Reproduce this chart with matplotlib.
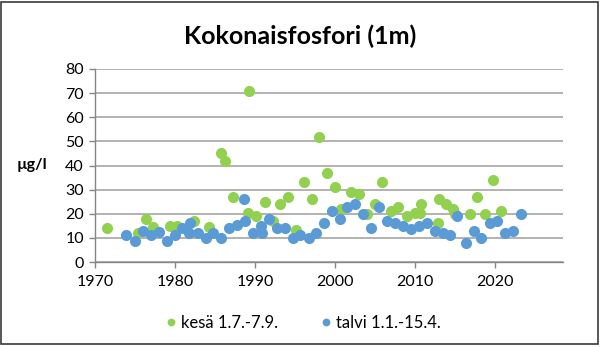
import matplotlib
matplotlib.use("Agg")
import matplotlib.pyplot as plt
from matplotlib.patches import Rectangle

plt.rcParams['font.family'] = ['Lato', 'DejaVu Sans']

# Summer samples (1.7.-7.9.): decimal year, total phosphorus µg/l
kesa_year = [1971.5, 1975.4, 1976.4, 1977.3, 1979.4, 1980.25, 1982.4, 1984.25,
             1985.7, 1986.2, 1987.2, 1989.1, 1989.25, 1990.1, 1991.25, 1992.2,
             1993.1, 1994.1, 1995.1, 1996.1, 1997.1, 1998.0, 1999.0, 2000.0,
             2000.8, 2002.0, 2003.0, 2004.0, 2005.0, 2005.9, 2007.0, 2007.9,
             2009.0, 2010.0, 2010.6, 2010.8, 2012.9, 2012.95, 2013.9, 2014.8,
             2014.95, 2016.9, 2017.7, 2018.75, 2019.75, 2020.75]
kesa_val = [14, 12, 18, 14.5, 15, 15, 17, 14.5,
            45, 42, 27, 20.5, 71, 19, 25, 17,
            24, 27, 13.3, 33, 26, 52, 37, 31,
            22, 29, 28, 20, 24, 33, 21, 23,
            19, 20.5, 20.5, 24, 16, 26, 24, 22,
            20, 20, 27, 20, 34, 21]

# Winter samples (1.1.-15.4.)
talvi_year = [1973.9, 1975.0, 1976.0, 1977.0, 1978.0, 1979.0, 1980.0, 1980.9,
              1981.9, 1981.8, 1982.9, 1983.9, 1984.8, 1985.8, 1986.8, 1987.75,
              1988.6, 1988.8, 1989.75, 1990.7, 1990.85, 1991.75, 1992.7, 1993.75,
              1994.7, 1995.6, 1996.7, 1997.6, 1998.6, 1999.6, 2000.6, 2001.5,
              2002.5, 2003.5, 2004.5, 2005.5, 2006.5, 2007.5, 2008.5, 2009.5,
              2010.5, 2011.5, 2012.5, 2013.5, 2014.4, 2015.3, 2016.4, 2017.4,
              2018.3, 2019.4, 2020.3, 2021.3, 2022.3, 2023.3]
talvi_val = [11, 8.7, 13, 11, 12.3, 8.7, 11, 14,
             16, 12, 12, 9.8, 12, 9.8, 14, 15.3,
             26, 17, 12, 15, 12, 18, 14, 14,
             10, 11.2, 10, 12, 16, 21, 18, 23,
             24, 20, 14, 23, 17, 16, 15, 13.8,
             15, 16, 13, 12, 11, 19, 8, 13,
             10, 16, 17, 12, 13, 20]

y_ticks = [0, 10, 20, 30, 40, 50, 60, 70, 80]
x_ticks = [1970, 1980, 1990, 2000, 2010, 2020]

GREEN = '#92D050'
BLUE = '#5B9BD5'
AXIS = '#868686'
GRID = '#A6A6A6'

fig = plt.figure(figsize=(6.0, 3.47), dpi=100)
ax = fig.add_axes([95/600, 1 - 262/347, (563 - 95)/600, (262 - 69)/347])

ax.plot(kesa_year, kesa_val, 'o', color=GREEN, ms=8, mec='none',
        label='kesä 1.7.-7.9.', zorder=3)
ax.plot(talvi_year, talvi_val, 'o', color=BLUE, ms=8, mec='none',
        label='talvi 1.1.-15.4.', zorder=4)

ax.set_xlim(1970, 2028.5)
ax.set_ylim(0, 80)
ax.set_yticks(y_ticks)
ax.set_xticks(x_ticks)
ax.yaxis.grid(True, color=GRID, lw=1.2)
ax.set_axisbelow(True)

for side in ('top', 'right'):
    ax.spines[side].set_visible(False)
for side in ('left', 'bottom'):
    ax.spines[side].set_color(AXIS)
    ax.spines[side].set_linewidth(1.0)

ax.tick_params(axis='both', colors=AXIS, length=4, width=1.0,
               labelcolor='black', labelsize=11.5)
ax.tick_params(axis='x', pad=5)
ax.tick_params(axis='y', pad=4)

fig.text(0.5, 1 - 36/347, 'Kokonaisfosfori (1m)', ha='center', va='center',
         fontsize=18, fontweight='bold')
fig.text(32/600, 1 - 165/347, 'µg/l', ha='center', va='center',
         fontsize=11.5, fontweight='bold')

leg = fig.legend(loc='center', bbox_to_anchor=(302/600, 1 - 323/347), ncol=2,
                 frameon=False, fontsize=12, handletextpad=0.1,
                 columnspacing=2.4, markerscale=0.7, handlelength=1.0)

fig.patches.append(Rectangle((1/600, 3/347), 597/600, 342/347,
                             transform=fig.transFigure, fill=False,
                             edgecolor='#3a3a3a', lw=1.2))

fig.savefig('out.png', dpi=100)
